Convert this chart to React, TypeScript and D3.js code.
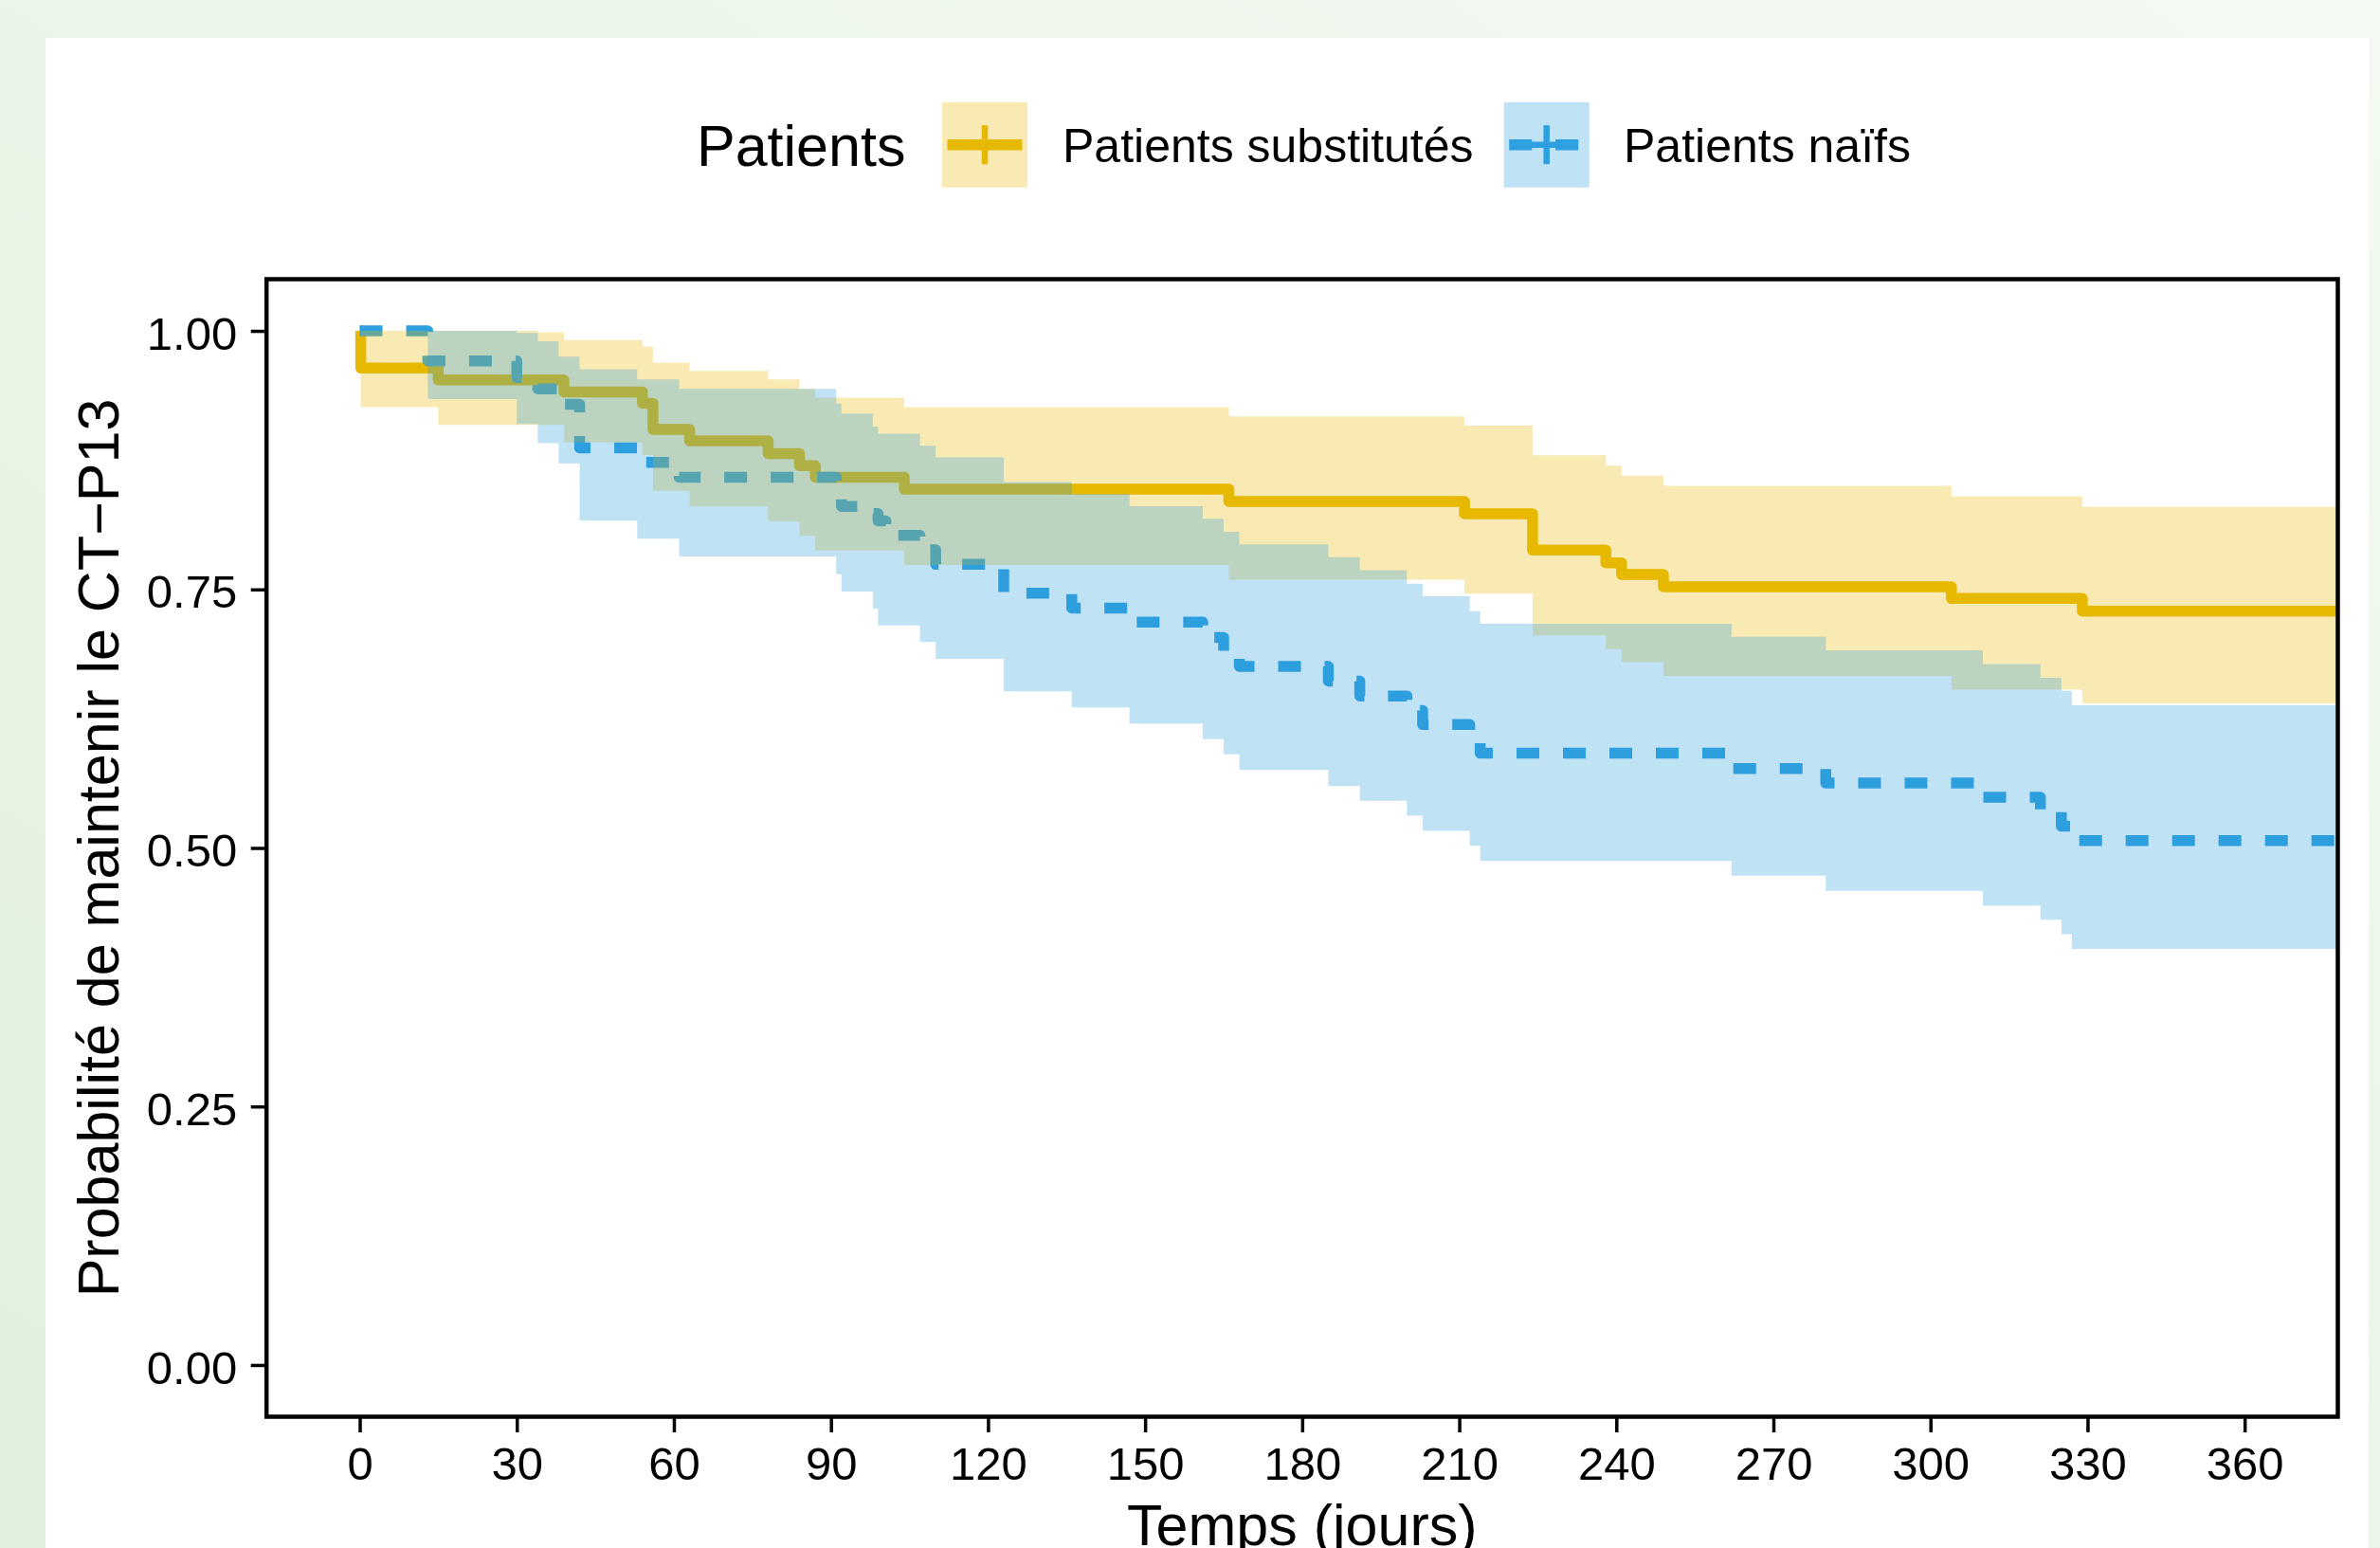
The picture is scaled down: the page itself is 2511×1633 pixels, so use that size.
import React, { useEffect, useRef } from 'react';
import * as d3 from 'd3';

const WIDTH = 2511;
const HEIGHT = 1633;

// Patients substitutés : temps (jours), survie, IC haut, IC bas
const substTimes = [0, 0.2, 15, 34, 39, 54, 56, 63, 78, 84, 87, 104, 166, 211, 224, 238, 241, 249, 304, 329];
const substSurv = [1, 0.964, 0.9525, 0.9525, 0.941, 0.93, 0.9048, 0.8936, 0.8814, 0.8697, 0.8585, 0.8469, 0.835, 0.8232, 0.788, 0.7758, 0.7644, 0.7526, 0.7412, 0.729];
const substUpper = [1, 1, 1, 0.9987, 0.991, 0.985, 0.9693, 0.9613, 0.953, 0.944, 0.9354, 0.9263, 0.9174, 0.9083, 0.8798, 0.8696, 0.86, 0.8501, 0.84, 0.8297];
const substLower = [1, 0.9263, 0.909, 0.909, 0.892, 0.88, 0.8453, 0.8303, 0.8157, 0.8017, 0.7876, 0.7736, 0.7594, 0.746, 0.7055, 0.6922, 0.6797, 0.6664, 0.6531, 0.6398];

// Patients naïfs
const naifTimes = [0, 13, 30, 34, 38, 42, 53, 61, 91, 92, 98, 99, 100.5, 107, 110, 123, 136, 147, 161, 165, 168, 185, 191, 200, 203, 212, 214, 262, 280, 310, 321, 325, 327];
const naifSurv = [1, 0.971, 0.955, 0.944, 0.929, 0.8868, 0.8728, 0.8585, 0.845, 0.8303, 0.8233, 0.8163, 0.8022, 0.7882, 0.7742, 0.7464, 0.732, 0.7184, 0.7036, 0.69, 0.6755, 0.6614, 0.647, 0.633, 0.6193, 0.605, 0.5916, 0.5767, 0.5627, 0.549, 0.535, 0.521, 0.507];
const naifUpper = [1, 1, 0.998, 0.99, 0.975, 0.963, 0.953, 0.944, 0.93, 0.92, 0.9074, 0.9006, 0.9006, 0.889, 0.8777, 0.8539, 0.8423, 0.8305, 0.8183, 0.8057, 0.7936, 0.7811, 0.7685, 0.7556, 0.7434, 0.729, 0.7169, 0.7043, 0.6911, 0.6778, 0.6645, 0.652, 0.638];
const naifLower = [1, 0.934, 0.91, 0.8914, 0.8716, 0.8166, 0.799, 0.7818, 0.7647, 0.7479, 0.7314, 0.7152, 0.7152, 0.6991, 0.6829, 0.6515, 0.636, 0.6204, 0.6052, 0.5905, 0.5753, 0.56, 0.5456, 0.5312, 0.5164, 0.502, 0.4875, 0.4731, 0.4586, 0.4442, 0.4305, 0.4165, 0.4024];

const xTicks = [0, 30, 60, 90, 120, 150, 180, 210, 240, 270, 300, 330, 360];
const yTicks = [0, 0.25, 0.5, 0.75, 1];

const legendTitle = 'Patients';
const xTitle = 'Temps (jours)';
const yTitle = 'Probabilité de maintenir le CT−P13';

const FONT = '"Liberation Sans", Arial, Helvetica, sans-serif';

type Pt = { t: number; s: number; lo: number; hi: number };

const groups = [
  { name: 'Patients substitutés', color: '#E7B800', dash: null as string | null,
    times: substTimes, surv: substSurv, upper: substUpper, lower: substLower },
  { name: 'Patients naïfs', color: '#2E9FDF', dash: '24 25',
    times: naifTimes, surv: naifSurv, upper: naifUpper, lower: naifLower },
];

export default function App() {
  const ref = useRef<SVGSVGElement>(null);

  useEffect(() => {
    const svg = d3.select(ref.current);
    svg.selectAll('*').remove();

    const panel = { left: 281.2, right: 2466.5, top: 294.5, bottom: 1494.5 };
    const x = d3.scaleLinear().domain([-17.8, 377.8]).range([panel.left, panel.right]);
    const y = d3.scaleLinear().domain([-0.05, 1.05]).range([panel.bottom, panel.top]);

    const defs = svg.append('defs');
    const grad = defs.append('linearGradient')
      .attr('id', 'bg-grad')
      .attr('x1', '1').attr('y1', '0').attr('x2', '0').attr('y2', '1');
    grad.append('stop').attr('offset', '0%').attr('stop-color', '#f4faf3');
    grad.append('stop').attr('offset', '100%').attr('stop-color', '#e1f0dc');
    defs.append('clipPath').attr('id', 'panel-clip')
      .append('rect')
        .attr('x', panel.left).attr('y', panel.top)
        .attr('width', panel.right - panel.left).attr('height', panel.bottom - panel.top);

    // page background and white card
    svg.append('rect').attr('width', WIDTH).attr('height', HEIGHT).attr('fill', 'url(#bg-grad)');
    svg.append('rect').attr('x', 48).attr('y', 40).attr('width', 2451).attr('height', HEIGHT).attr('fill', '#ffffff');

    const pts = (g: typeof groups[number]): Pt[] => {
      const p = g.times.map((t, i) => ({ t, s: g.surv[i], lo: g.lower[i], hi: g.upper[i] }));
      const last = p[p.length - 1];
      return p.concat([{ ...last, t: 400 }]);
    };

    const line = d3.line<Pt>().x(d => x(d.t)).y(d => y(d.s)).curve(d3.curveStepAfter);
    const area = d3.area<Pt>().x(d => x(d.t)).y0(d => y(d.lo)).y1(d => y(d.hi)).curve(d3.curveStepAfter);

    const plot = svg.append('g').attr('clip-path', 'url(#panel-clip)');
    groups.forEach(g => {
      plot.append('path')
        .attr('d', line(pts(g)))
        .attr('fill', 'none')
        .attr('stroke', g.color)
        .attr('stroke-width', 11.5)
        .attr('stroke-linejoin', 'round')
        .attr('stroke-linecap', 'butt')
        .attr('stroke-dasharray', g.dash);
    });
    groups.forEach(g => {
      plot.append('path')
        .attr('d', area(pts(g)))
        .attr('fill', g.color)
        .attr('fill-opacity', 0.3);
    });

    // axes
    const xAxis = svg.append('g')
      .attr('transform', `translate(0,${panel.bottom})`)
      .call(d3.axisBottom(x).tickValues(xTicks).tickSize(16.5).tickPadding(15.5).tickFormat(d3.format('d')));
    const yAxis = svg.append('g')
      .attr('transform', `translate(${panel.left},0)`)
      .call(d3.axisLeft(y).tickValues(yTicks).tickSize(16.5).tickPadding(14.5).tickFormat(d3.format('.2f')));
    [xAxis, yAxis].forEach(a => {
      a.select('.domain').remove();
      a.selectAll('line').attr('stroke', '#000').attr('stroke-width', 3.5);
      a.selectAll('text')
        .attr('fill', '#000')
        .attr('font-family', FONT)
        .attr('font-size', 49);
    });
    yAxis.selectAll('text').attr('dy', '0.39em');

    svg.append('rect')
      .attr('x', panel.left).attr('y', panel.top)
      .attr('width', panel.right - panel.left).attr('height', panel.bottom - panel.top)
      .attr('fill', 'none').attr('stroke', '#000').attr('stroke-width', 4.5);

    // axis titles
    svg.append('text')
      .attr('x', (panel.left + panel.right) / 2).attr('y', 1630)
      .attr('text-anchor', 'middle')
      .attr('font-family', FONT).attr('font-size', 61)
      .text(xTitle);
    svg.append('text')
      .attr('transform', `translate(125,${(panel.top + panel.bottom) / 2}) rotate(-90)`)
      .attr('text-anchor', 'middle')
      .attr('font-family', FONT).attr('font-size', 61)
      .text(yTitle);

    // legend
    const legend = svg.append('g').attr('font-family', FONT);
    legend.append('text').attr('x', 735).attr('y', 175).attr('font-size', 61).text(legendTitle);
    const keyX = [994, 1586.7];
    const labelX = [1121, 1713];
    groups.forEach((g, i) => {
      const kx = keyX[i];
      const ky = 107.7;
      const cx = kx + 45;
      const cy = ky + 45;
      legend.append('rect')
        .attr('x', kx).attr('y', ky).attr('width', 90).attr('height', 90)
        .attr('fill', g.color).attr('fill-opacity', 0.3);
      legend.append('line')
        .attr('x1', cx - 20.5).attr('x2', cx + 20.5).attr('y1', cy).attr('y2', cy)
        .attr('stroke', g.color).attr('stroke-width', 6.5);
      legend.append('line')
        .attr('x1', cx).attr('x2', cx).attr('y1', cy - 20.5).attr('y2', cy + 20.5)
        .attr('stroke', g.color).attr('stroke-width', 6.5);
      legend.append('line')
        .attr('x1', kx + 5.5).attr('x2', kx + 84.5).attr('y1', cy).attr('y2', cy)
        .attr('stroke', g.color).attr('stroke-width', 11.5)
        .attr('stroke-dasharray', g.dash);
      legend.append('text')
        .attr('x', labelX[i]).attr('y', 170.7)
        .attr('font-size', 50)
        .text(g.name);
    });
  }, []);

  return (
    <svg
      ref={ref}
      width={WIDTH}
      height={HEIGHT}
      style={{ position: 'absolute', left: 0, top: 0, display: 'block' }}
    />
  );
}
